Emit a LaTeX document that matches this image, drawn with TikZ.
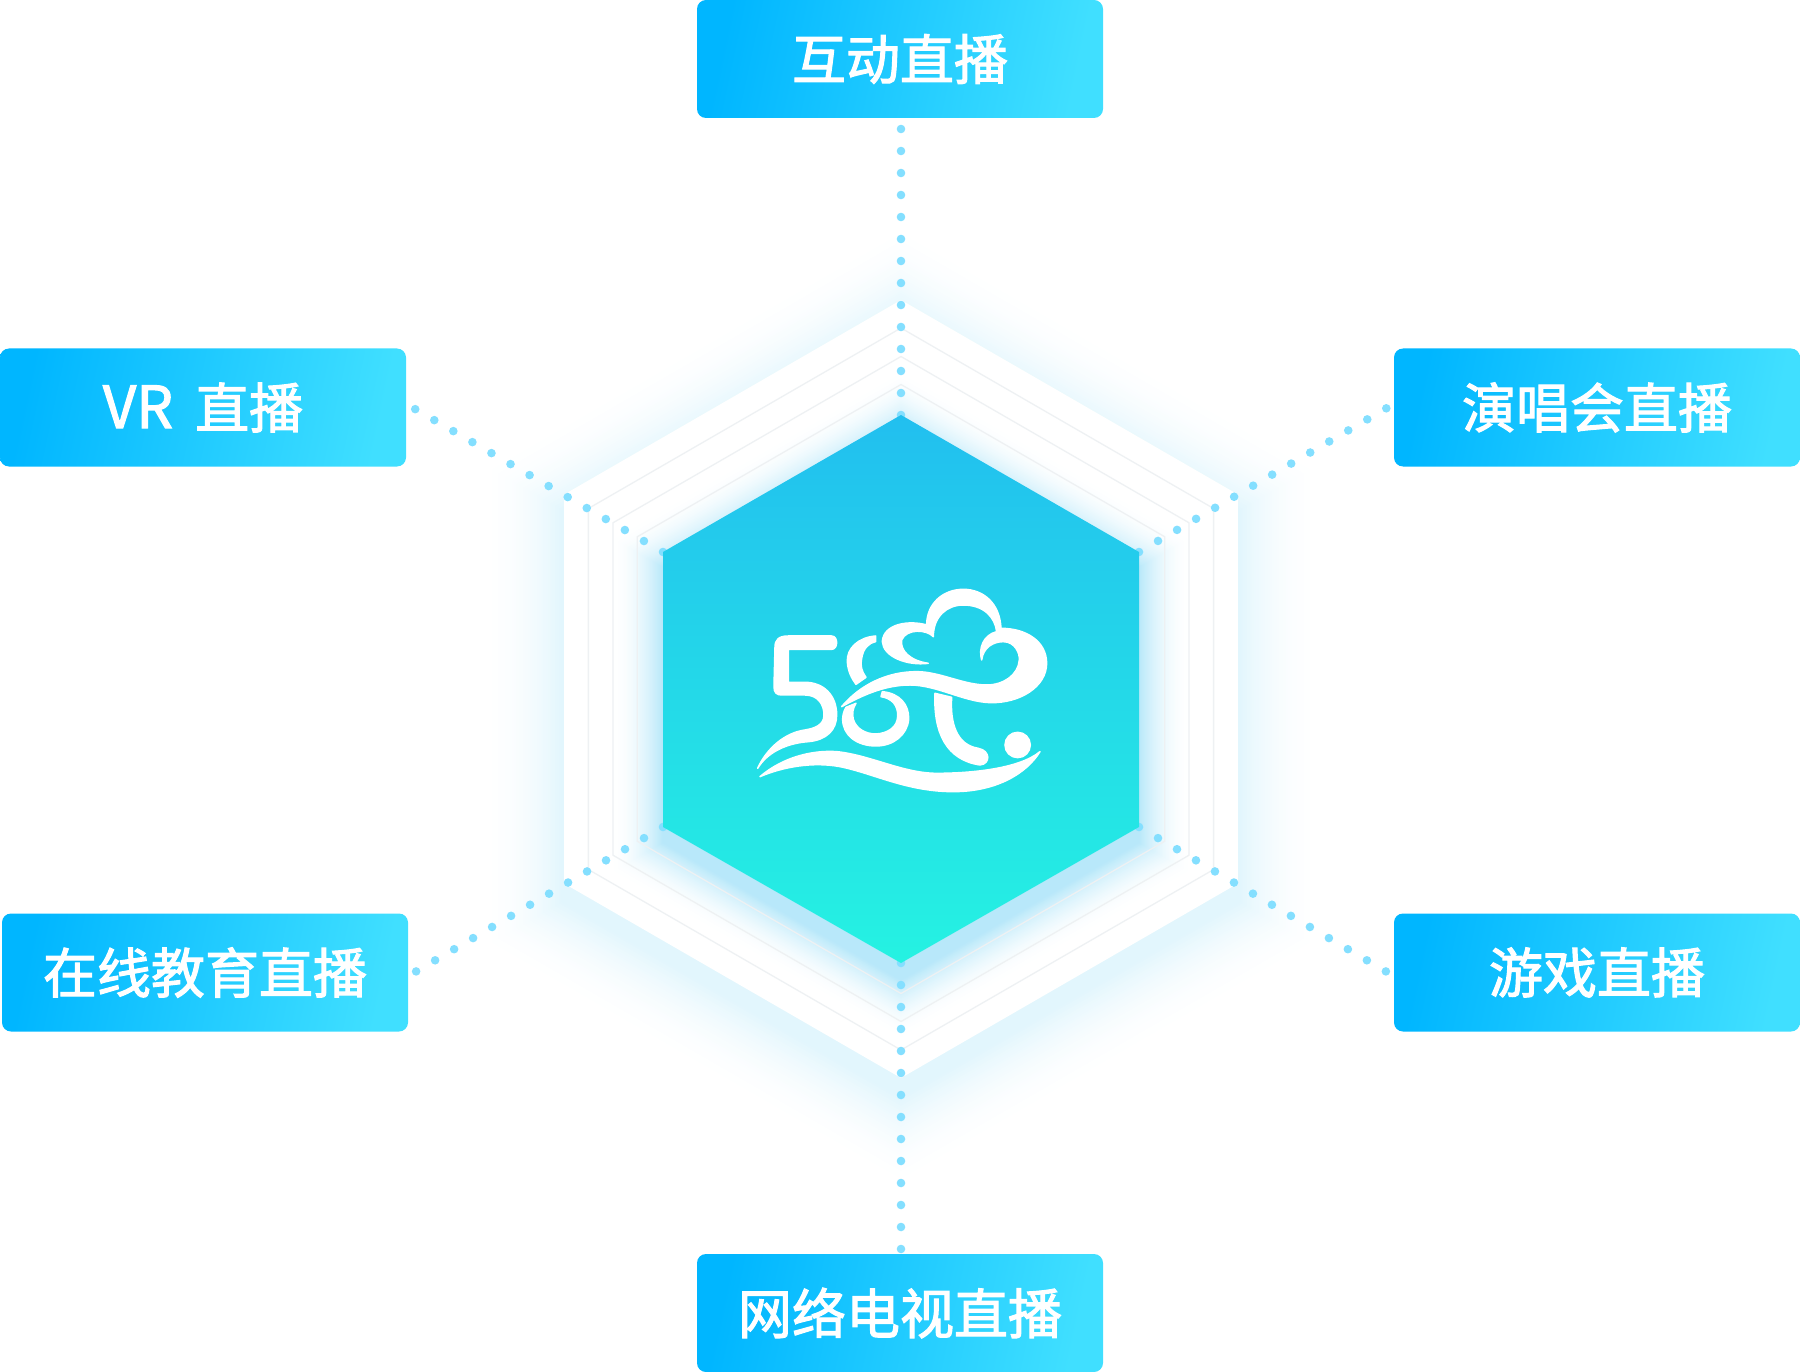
\documentclass[tikz,border=0pt]{standalone}
\usepackage{fontspec}
\setmainfont{Noto Sans CJK SC}[FakeBold=2]
\usetikzlibrary{calc}
\definecolor{boxL}{HTML}{00B6FF}
\definecolor{boxR}{HTML}{40DFFF}
\definecolor{hexT}{HTML}{22BFEF}
\definecolor{hexB}{HTML}{25F2E2}
\definecolor{dotc}{HTML}{84DFFF}
\definecolor{linec}{HTML}{EEF1F3}
\definecolor{glowc}{HTML}{5CCBF3}
\tikzset{
  x=1pt,y=-1pt,
  labelbox/.style={rounded corners=9pt,minimum width=406pt,minimum height=118pt,inner sep=0pt,
    left color=boxL,right color=boxR,shading angle=78,text=white,
    font=\fontsize{54}{60}\selectfont},
  dotline/.style={dotc,line width=8.6pt,line cap=round,dash pattern=on 0pt off 22pt},
  ringline/.style={linec,line width=1.3pt,line join=miter},
  logopart/.style={fill=white,draw=white,line width=1.5pt,line join=round}
}
\newcommand{\hexat}[2]{(901,{#1-#2}) -- ({901+0.866*#2},{#1-0.5*#2}) -- ({901+0.866*#2},{#1+0.5*#2}) -- (901,{#1+#2}) -- ({901-0.866*#2},{#1+0.5*#2}) -- ({901-0.866*#2},{#1-0.5*#2}) -- cycle}
\begin{document}
\begin{tikzpicture}
\useasboundingbox (0,0) rectangle (1800,1372);
% outer glow
\foreach \i in {36,35,...,1}{
  \pgfmathsetmacro{\rr}{389+\i*2.6}
  \pgfmathsetmacro{\tt}{19*(1-\i/37)*(1-\i/37)}
  \fill[glowc!\tt!white] \hexat{706}{\rr};
}
% white plate
\fill[white] \hexat{689}{389};
% inner glow
\foreach \i in {40,39,...,1}{
  \pgfmathsetmacro{\rr}{274+\i*1.5}
  \pgfmathsetmacro{\tt}{46*(1-\i/41)*(1-\i/41)}
  \fill[glowc!\tt!white] \hexat{705}{\rr};
}
% rings
\draw[ringline] \hexat{689}{361};
\draw[ringline] \hexat{689}{332.5};
\draw[ringline] \hexat{689}{304.5};
% corners of the hexagon
\coordinate (hT) at (901,415);
\coordinate (hTR) at (1139,552);
\coordinate (hBR) at (1139,827);
\coordinate (hB) at (901,963);
\coordinate (hBL) at (663,827);
\coordinate (hTL) at (663,552);
% boxes
\node[labelbox] (top) at (900,59) {\raisebox{-3pt}{互动直播}};
\node[labelbox] (vr) at (203,407.5) {\raisebox{-3pt}{{\fontsize{58}{60}\selectfont VR}\hspace{22pt}直播}};
\node[labelbox] (concert) at (1597,407.5) {\raisebox{-3pt}{演唱会直播}};
\node[labelbox] (edu) at (205,972.5) {\raisebox{-3pt}{在线教育直播}};
\node[labelbox] (game) at (1597,972.5) {\raisebox{-3pt}{游戏直播}};
\node[labelbox] (tv) at (900,1313) {\raisebox{-3pt}{网络电视直播}};
% connectors
\draw[dotline] (hT) -- (hT |- top.south);
\draw[dotline] (hB) -- (hB |- tv.north);
\draw[dotline] (hTL) -- (vr.1);
\draw[dotline] (hTR) -- (concert.179);
\draw[dotline] (hBL) -- (edu.-1);
\draw[dotline] (hBR) -- (game.181);
% main hexagon
\shade[top color=hexT,bottom color=hexB] (hT) -- (hTR) -- (hBR) -- (hB) -- (hBL) -- (hTL) -- cycle;
% logo
\begin{scope}[shift={(720,560)},x=0.3333pt,y=-0.3333pt]
% five
\path[logopart] (335,228) -- (205,228) .. controls (175,228) and (165,240) .. (165,262) -- (162,380)
  .. controls (162,398) and (170,405) .. (185,405) -- (255,405)
  .. controls (295,405) and (312,435) .. (312,465)
  .. controls (312,495) and (285,505) .. (255,510)
  .. controls (195,518) and (140,565) .. (113,625)
  .. controls (140,580) and (195,550) .. (265,545)
  .. controls (320,540) and (350,510) .. (350,465)
  .. controls (350,405) and (310,367) .. (255,367)
  -- (205,367) -- (205,268) -- (335,268)
  .. controls (355,268) and (355,228) .. (335,228) -- cycle;
% upper part of eight
\path[logopart] (467,228) .. controls (415,232) and (380,265) .. (382,305)
  .. controls (384,335) and (395,355) .. (408,373) -- (438,352)
  .. controls (425,335) and (420,315) .. (425,295)
  .. controls (430,265) and (445,250) .. (467,245) -- cycle;
% lower ring of eight
\path[logopart] (487,395) .. controls (540,400) and (568,435) .. (566,478)
  .. controls (562,525) and (520,558) .. (468,558)
  .. controls (410,558) and (368,525) .. (368,478)
  .. controls (368,465) and (372,452) .. (378,442) -- (408,430)
  .. controls (398,445) and (396,462) .. (400,478)
  .. controls (408,505) and (435,522) .. (468,522)
  .. controls (505,520) and (532,500) .. (533,470)
  .. controls (535,435) and (515,415) .. (483,410) -- cycle;
% cloud and band
\path[logopart] (625,310) .. controls (570,302) and (540,272) .. (545,240)
  .. controls (560,205) and (620,208) .. (640,230)
  .. controls (640,170) and (680,135) .. (730,135)
  .. controls (790,135) and (825,170) .. (830,215)
  .. controls (790,225) and (775,265) .. (785,300)
  .. controls (790,262) and (820,245) .. (850,245)
  .. controls (885,245) and (900,280) .. (898,300)
  .. controls (895,345) and (850,375) .. (800,375)
  .. controls (730,375) and (660,335) .. (590,335)
  .. controls (500,335) and (420,375) .. (365,440)
  .. controls (420,410) and (490,375) .. (570,375)
  .. controls (650,375) and (730,425) .. (810,428)
  .. controls (900,430) and (980,380) .. (980,310)
  .. controls (980,245) and (920,205) .. (843,205)
  .. controls (840,130) and (790,88) .. (730,88)
  .. controls (670,88) and (620,130) .. (620,195)
  .. controls (570,180) and (490,190) .. (487,245)
  .. controls (490,290) and (560,318) .. (625,310) -- cycle;
% stem
\path[logopart] (645,400) .. controls (640,520) and (680,600) .. (780,615)
  .. controls (812,612) and (812,572) .. (775,565)
  .. controls (710,555) and (690,490) .. (695,412) -- cycle;
% point
\path[logopart] (893,555) circle[radius=38];
% wave
\path[logopart] (120,650) .. controls (190,590) and (280,570) .. (350,575)
  .. controls (450,585) and (550,640) .. (650,640)
  .. controls (760,640) and (900,625) .. (960,575)
  .. controls (920,640) and (830,695) .. (700,695)
  .. controls (560,695) and (460,640) .. (360,620)
  .. controls (280,605) and (190,620) .. (120,650) -- cycle;
\end{scope}
\end{tikzpicture}
\end{document}
